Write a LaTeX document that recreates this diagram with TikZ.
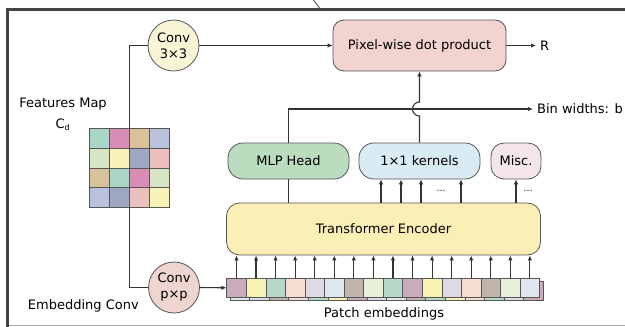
\documentclass[tikz,border=0pt]{standalone}
\usepackage{fontspec}
\setmainfont{DejaVu Sans}
\usetikzlibrary{arrows.meta}

% fills
\definecolor{framec}{HTML}{454545}
\definecolor{linec}{HTML}{333333}
\definecolor{edgec}{HTML}{555555}
\definecolor{pixfill}{HTML}{F2D3D0}
\definecolor{mlpfill}{HTML}{BCDCBF}
\definecolor{kernfill}{HTML}{D9ECF4}
\definecolor{miscfill}{HTML}{F4E4EB}
\definecolor{trfill}{HTML}{FBEFB5}
\definecolor{convAfill}{HTML}{F8F5D6}
\definecolor{convBfill}{HTML}{EFD5D0}
% patch colours
\definecolor{mauve}{HTML}{C9ABB9}
\definecolor{yel}{HTML}{F7F1B3}
\definecolor{mint}{HTML}{B7D9C9}
\definecolor{peach}{HTML}{F5DDD3}
\definecolor{lav}{HTML}{DCDBE4}
\definecolor{lblue}{HTML}{DFE6EF}
\definecolor{taupe}{HTML}{BFB4AC}
\definecolor{pgreen}{HTML}{E7EFD8}
% feature map colours
\definecolor{gteal}{HTML}{A9D6C6}
\definecolor{gmag}{HTML}{D98CB6}
\definecolor{gtan}{HTML}{D7C29C}
\definecolor{glav}{HTML}{B9C1DB}
\definecolor{ggreen}{HTML}{D7E5C4}
\definecolor{gyel}{HTML}{F8F3B9}
\definecolor{gslate}{HTML}{9FA8C3}
\definecolor{gpink}{HTML}{ECC0BC}

\tikzset{
  conn/.style={draw=linec, line width=1.1pt},
  arr/.style={conn, -{Latex[length=5pt,width=4.5pt]}},
  blk/.style={draw=edgec, line width=0.8pt, inner sep=0, align=center},
  pill/.style={blk, rounded corners=15pt, minimum height=36pt},
  convc/.style={blk, circle, minimum size=51pt,
    font=\fontsize{13}{16}\selectfont},
  patch/.style={draw=edgec, line width=0.6pt, inner sep=0,
    minimum width=19.56pt, minimum height=19pt},
  fmcell/.style={draw=edgec, line width=0.6pt, inner sep=0,
    minimum width=19.85pt, minimum height=19.75pt},
  dots/.style={font=\fontsize{9}{9}\selectfont, inner sep=0},
  lbl/.style={inner sep=0}
}

\begin{document}
\begin{tikzpicture}[x=1pt, y=-1pt, font=\fontsize{13}{15}\selectfont]
\useasboundingbox (0,0) rectangle (625,327);

% outer frame
\draw[framec, line width=3pt] (7.5,327) -- (7.5,9) -- (625,9);
\draw[gray!70, line width=1pt] (9,325.5) -- (625,325.5);
\draw[framec, line width=0.8pt] (313.5,0) -- (319.5,8);

% main blocks
\node[blk, rounded corners=11pt, fill=pixfill, minimum width=173pt, minimum height=51pt]
  (px) at (419.5,45.5) {Pixel-wise dot product};
\node[pill, fill=mlpfill, minimum width=121pt] (mlp) at (288.5,161) {MLP Head};
\node[pill, fill=kernfill, minimum width=121pt] (kern) at (419.5,161) {1×1 kernels};
\node[pill, rounded corners=13pt, fill=miscfill, minimum width=50pt] (misc) at (516,161) {Misc.};
\node[blk, rounded corners=13pt, fill=trfill, minimum width=314pt, minimum height=52pt]
  (tr) at (383.5,229) {Transformer Encoder};

\node[convc, fill=convAfill] (c3) at (173.5,45.5) {Conv\\3×3};
\node[convc, fill=convBfill] (cp) at (174,287.5) {Conv\\p×p};

% feature map grid
\node[inner sep=0, minimum width=79.4pt, minimum height=79pt] (fm) at (129.2,168) {};
\foreach \row [count=\r from 0] in {{gteal,gmag,gtan,glav},{ggreen,gyel,gslate,gpink},
    {gtan,gteal,gmag,ggreen},{glav,gslate,gpink,gyel}} {
  \foreach \c [count=\k from 0] in \row {
    \node[fmcell, fill=\c] (fm\r\k) at ({89.5+9.925+19.85*\k},{128.5+9.875+19.75*\r}) {};
  }
}
\node[lbl, align=center] (fmlabel) at (63,104) {Features Map};
\node[lbl] (cd) at (63,125) {C\textsubscript{\fontsize{8}{8}\selectfont d}};

% patch embeddings, one layer stacked behind the front row
\foreach \c [count=\i from 0] in {lblue,lav,taupe,peach,mint,yel,mauve,lav,lblue,taupe,mint,yel,peach,mint,lav,mauve} {
  \node[patch, fill=\c] (b\i) at ({226.7+9.78+19.56*\i+3.4},{287.8+3.4}) {};
}
\foreach \c [count=\i from 0] in {mauve,yel,mint,peach,lav,lblue,taupe,pgreen,mint,mauve,yel,lav,peach,taupe,pgreen,lblue} {
  \node[patch, fill=\c] (p\i) at ({226.7+9.78+19.56*\i},287.8) {};
}
\foreach \i in {0,...,15} \draw[arr] (p\i.north) -- (p\i.north |- tr.south);

% labels
\node[lbl] (embl) at (83.3,305.5) {Embedding Conv};
\node[lbl] (pel) at (384,314) {Patch embeddings};

% connectors on the left
\draw[conn] (fm.north) |- (c3.west);
\draw[arr] (c3.east) -- (px.west);
\draw[conn] (fm.south) |- (cp.west);
\draw[arr] (cp.east) -- (p0.west);

% outputs
\coordinate (rend) at (536,45.5);
\draw[arr] (px.east) -- (rend);
\node[lbl, anchor=west] (rlabel) at (540,45.5) {R};

\coordinate (bend) at (533,109);
\draw[arr] (mlp.north) |- (bend);
\node[lbl, anchor=west] (blabel) at (537,109) {Bin widths: b};

% kernels to the dot product, hopping over the bin-width line
\coordinate (hop) at (419.5,116);
\draw[arr] (kern.north) -- (hop) arc[start angle=90, end angle=270, radius=7] -- (px.south);

% transformer outputs
\draw[conn] (tr.north -| mlp.south) -- (mlp.south);
\foreach \x in {381,401,421,461}
  \draw[arr] (tr.north -| \x,0) -- (kern.south -| \x,0);
\node[dots] (kd) at (441,191) {…};
\draw[arr] (tr.north -| misc.south) -- (misc.south);
\node[dots] (md) at (528,191) {…};
\end{tikzpicture}
\end{document}
